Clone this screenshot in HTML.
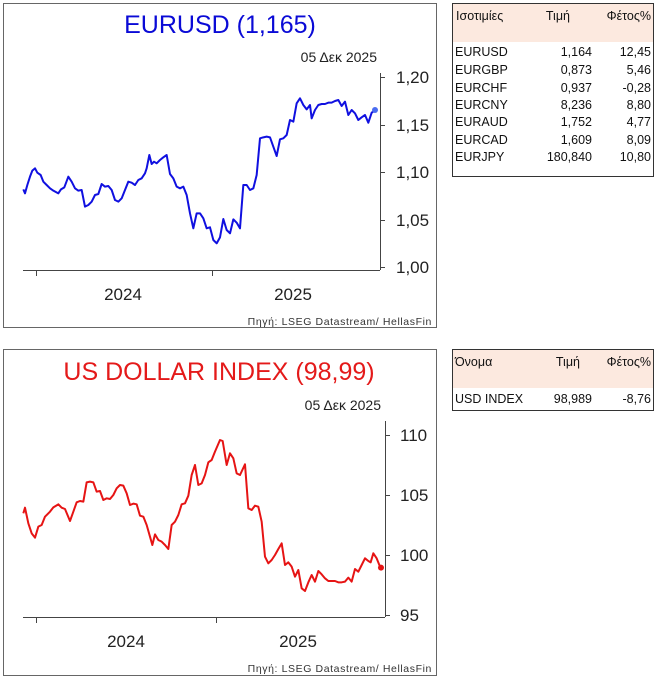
<!DOCTYPE html>
<html><head><meta charset="utf-8"><style>
html,body{margin:0;padding:0;background:#fff;}
svg{display:block;font-family:"Liberation Sans",sans-serif;}
</style></head><body>
<svg width="657" height="679" viewBox="0 0 657 679" xmlns="http://www.w3.org/2000/svg">
<rect width="657" height="679" fill="#fff"/>
<!-- Top chart -->
<rect x="3.5" y="3.5" width="433" height="324" fill="none" stroke="#666" stroke-width="1"/>
<text x="220" y="33" text-anchor="middle" font-size="25" fill="#0a0ad6">EURUSD (1,165)</text>
<text x="377" y="62" text-anchor="end" font-size="14" fill="#222">05 Δεκ 2025</text>
<g stroke="#444" stroke-width="1" fill="none">
<line x1="380.5" y1="73" x2="380.5" y2="270"/>
<line x1="23" y1="270.5" x2="380" y2="270.5"/>
<line x1="380" y1="77.5" x2="385" y2="77.5"/><line x1="380" y1="125.5" x2="385" y2="125.5"/>
<line x1="380" y1="172.5" x2="385" y2="172.5"/><line x1="380" y1="220.5" x2="385" y2="220.5"/>
<line x1="380" y1="267.5" x2="385" y2="267.5"/>
<line x1="36.5" y1="270" x2="36.5" y2="276"/><line x1="212.5" y1="270" x2="212.5" y2="276"/>
</g>
<g font-size="17" fill="#222">
<text x="396" y="83">1,20</text><text x="396" y="131">1,15</text><text x="396" y="178">1,10</text>
<text x="396" y="226">1,05</text><text x="396" y="273">1,00</text>
<text x="123" y="300" text-anchor="middle">2024</text><text x="293" y="300" text-anchor="middle">2025</text>
</g>
<text x="432" y="325" text-anchor="end" font-size="10.5" fill="#333" letter-spacing="0.6">Πηγή: LSEG Datastream/ HellasFin</text>
<g transform="scale(0.33333)">
<polyline fill="none" stroke="#1010e0" stroke-width="6" stroke-linejoin="round" points="70,568 75,580 82,555 90,530 97,512 105,505 112,518 122,525 130,545 140,555 150,565 160,572 175,580 183,568 193,562 205,530 215,545 225,565 235,572 245,570 255,620 265,615 275,605 285,585 295,582 305,552 315,560 325,558 335,570 345,600 355,605 365,595 375,570 385,545 395,548 405,555 415,540 425,535 435,520 440,505 448,465 455,492 462,485 470,490 480,480 490,472 500,465 510,522 520,535 530,560 540,565 550,560 560,585 570,640 580,685 590,640 600,640 610,655 620,685 630,682 640,720 650,730 660,712 670,657 680,690 690,700 700,658 710,668 720,685 730,555 740,555 750,570 760,565 770,525 780,415 790,412 800,410 810,412 820,440 830,468 840,418 850,415 860,405 870,360 880,365 890,310 900,295 910,315 920,328 930,315 935,355 945,330 955,315 965,312 975,312 985,308 995,308 1005,303 1015,300 1025,318 1035,305 1045,345 1055,330 1065,340 1075,360 1085,352 1095,345 1105,368 1115,338 1125,332"/>
<circle cx="1125" cy="330" r="9" fill="#4a6cf0"/>
</g>
<!-- Top table -->
<rect x="452.5" y="3.5" width="201" height="173" fill="#fff" stroke="#333"/>
<rect x="453" y="4" width="200" height="38" fill="#fce9df"/>
<g font-size="12.5" fill="#111">
<text x="456" y="20">Ισοτιμίες</text><text x="570" y="20" text-anchor="end">Τιμή</text><text x="651" y="20" text-anchor="end">Φέτος%</text>
<text x="455" y="56">EURUSD</text><text x="592" y="56" text-anchor="end">1,164</text><text x="651" y="56" text-anchor="end">12,45</text>
<text x="455" y="74">EURGBP</text><text x="592" y="74" text-anchor="end">0,873</text><text x="651" y="74" text-anchor="end">5,46</text>
<text x="455" y="92">EURCHF</text><text x="592" y="92" text-anchor="end">0,937</text><text x="651" y="92" text-anchor="end">-0,28</text>
<text x="455" y="109">EURCNY</text><text x="592" y="109" text-anchor="end">8,236</text><text x="651" y="109" text-anchor="end">8,80</text>
<text x="455" y="126">EURAUD</text><text x="592" y="126" text-anchor="end">1,752</text><text x="651" y="126" text-anchor="end">4,77</text>
<text x="455" y="144">EURCAD</text><text x="592" y="144" text-anchor="end">1,609</text><text x="651" y="144" text-anchor="end">8,09</text>
<text x="455" y="161">EURJPY</text><text x="592" y="161" text-anchor="end">180,840</text><text x="651" y="161" text-anchor="end">10,80</text>
</g>
<!-- Bottom chart -->
<rect x="3.5" y="349.5" width="433" height="326" fill="none" stroke="#666" stroke-width="1"/>
<text x="219" y="380" text-anchor="middle" font-size="25" fill="#e41a1a">US DOLLAR INDEX (98,99)</text>
<text x="381" y="410" text-anchor="end" font-size="14" fill="#222">05 Δεκ 2025</text>
<g stroke="#444" stroke-width="1" fill="none">
<line x1="385.5" y1="421" x2="385.5" y2="617"/>
<line x1="23" y1="617.5" x2="385" y2="617.5"/>
<line x1="385" y1="435.5" x2="390" y2="435.5"/><line x1="385" y1="495.5" x2="390" y2="495.5"/>
<line x1="385" y1="555.5" x2="390" y2="555.5"/><line x1="385" y1="615.5" x2="390" y2="615.5"/>
<line x1="36.5" y1="617" x2="36.5" y2="623"/><line x1="216.5" y1="617" x2="216.5" y2="623"/>
</g>
<g font-size="17" fill="#222">
<text x="400" y="441">110</text><text x="400" y="501">105</text><text x="400" y="561">100</text><text x="400" y="621">95</text>
<text x="126" y="647" text-anchor="middle">2024</text><text x="298" y="647" text-anchor="middle">2025</text>
</g>
<text x="432" y="672" text-anchor="end" font-size="10.5" fill="#333" letter-spacing="0.6">Πηγή: LSEG Datastream/ HellasFin</text>
<g transform="translate(0,345) scale(0.33333)">
<polyline fill="none" stroke="#e61414" stroke-width="6" stroke-linejoin="round" points="70,505 75,488 85,535 95,565 105,578 115,545 125,540 135,515 150,500 160,487 175,478 185,488 195,492 210,528 220,500 230,472 240,468 250,470 260,412 270,410 280,412 290,440 300,438 310,465 320,460 330,462 340,450 350,430 360,420 370,422 380,445 390,480 400,476 410,478 420,512 430,515 440,540 450,575 457,600 465,568 475,585 485,590 495,600 505,612 515,540 525,530 535,510 545,478 555,475 565,452 575,390 585,360 595,420 605,415 615,390 625,352 635,345 645,320 660,285 668,288 680,360 690,325 700,340 710,385 720,390 735,358 745,490 755,495 765,482 775,485 785,530 795,635 805,655 815,645 825,630 835,612 845,595 855,660 865,652 875,665 885,695 895,675 905,730 915,738 925,712 935,690 945,710 955,678 965,688 975,700 985,708 995,708 1005,708 1015,712 1025,712 1035,710 1045,698 1055,710 1065,672 1075,680 1085,660 1095,640 1105,648 1112,652 1120,625 1130,640 1140,665"/>
<circle cx="1143" cy="668" r="9" fill="#e61414"/>
</g>
<!-- Bottom table -->
<rect x="452.5" y="349.5" width="201" height="61" fill="#fff" stroke="#333"/>
<rect x="453" y="350" width="200" height="38" fill="#fce9df"/>
<g font-size="12.5" fill="#111">
<text x="455" y="366">Όνομα</text><text x="580" y="366" text-anchor="end">Τιμή</text><text x="651" y="366" text-anchor="end">Φέτος%</text>
<text x="455" y="403">USD INDEX</text><text x="592" y="403" text-anchor="end">98,989</text><text x="651" y="403" text-anchor="end">-8,76</text>
</g>
</svg>
</body></html>
